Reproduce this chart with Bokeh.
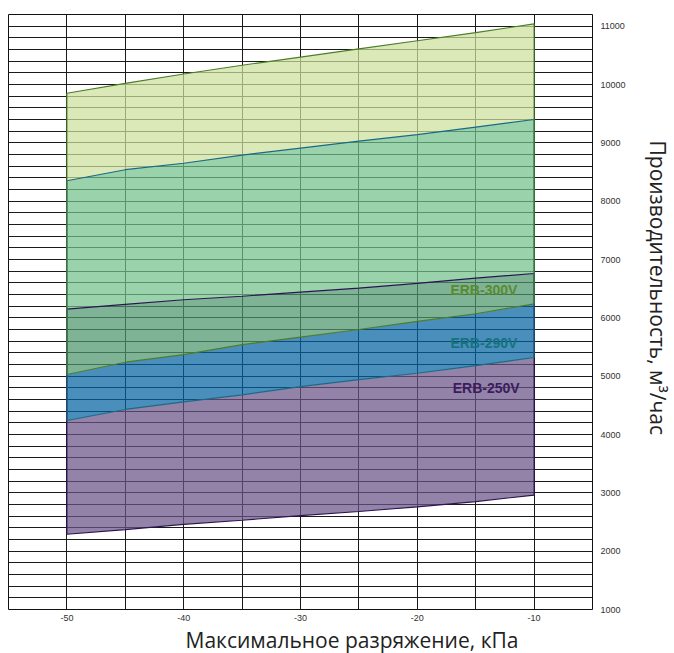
from bokeh.plotting import figure
from bokeh.models import FixedTicker, Range1d, Label, Title
from bokeh.embed import file_html
from bokeh.resources import INLINE

# ---- data ----
pressure = [-50, -45, -40, -35, -30, -25, -20, -15, -10]

erb300_upper = [9850, 10020, 10180, 10330, 10470, 10610, 10750, 10890, 11040]
erb300_lower = [5030, 5240, 5370, 5540, 5670, 5800, 5940, 6070, 6240]

erb290_upper = [8350, 8540, 8650, 8790, 8910, 9030, 9140, 9270, 9400]
erb290_lower = [4240, 4430, 4560, 4680, 4820, 4940, 5050, 5180, 5320]

erb250_upper = [6150, 6230, 6310, 6370, 6440, 6510, 6590, 6680, 6760]
erb250_lower = [2290, 2370, 2460, 2530, 2610, 2680, 2760, 2850, 2960]

model_names = ["ERB-300V", "ERB-290V", "ERB-250V"]

x_tick_values = [-50, -40, -30, -20, -10]
y_tick_values = [1000, 2000, 3000, 4000, 5000, 6000, 7000, 8000, 9000, 10000, 11000]
x_grid_values = [-50, -45, -40, -35, -30, -25, -20, -15, -10]
y_grid_values = list(range(1200, 11200, 200))

x_title = "Максимальное разряжение, кПа"
y_title = "Производительность, м³/час"

# ---- figure ----
p = figure(frame_width=584, frame_height=595,
           x_range=Range1d(-55, -5), y_range=Range1d(1000, 11200),
           y_axis_location="right",
           output_backend="svg", toolbar_location=None,
           min_border_left=8, min_border_top=14, min_border_right=0, min_border_bottom=0)

p.background_fill_color = "white"
p.border_fill_color = "white"
p.outline_line_color = "#111111"
p.outline_line_width = 1

p.xgrid.ticker = FixedTicker(ticks=x_grid_values)
p.ygrid.ticker = FixedTicker(ticks=y_grid_values)
for g in (p.xgrid, p.ygrid):
    g.grid_line_color = "#1a1a1a"
    g.grid_line_width = 1
    g.grid_line_alpha = 1.0

FA = 0.72
# overlapping bands
p.varea(x=pressure, y1=erb290_upper, y2=erb300_upper, fill_color="#cde09c", fill_alpha=FA)
p.varea(x=pressure, y1=erb250_upper, y2=erb290_upper, fill_color="#73c28a", fill_alpha=FA)
p.varea(x=pressure, y1=erb300_lower, y2=erb250_upper, fill_color="#4d956d", fill_alpha=FA)
p.varea(x=pressure, y1=erb290_lower, y2=erb300_lower, fill_color="#0463a2", fill_alpha=FA)
p.varea(x=pressure, y1=erb250_lower, y2=erb290_lower, fill_color="#695386", fill_alpha=FA)

# outlines of each model's working area
def outline(up, lo, color):
    xs = pressure + pressure[::-1]
    ys = up + lo[::-1]
    p.patch(xs, ys, fill_alpha=0, line_color=color, line_width=1.1)

outline(erb250_upper, erb250_lower, "#2c1452")
outline(erb290_upper, erb290_lower, "#1a6a85")
outline(erb300_upper, erb300_lower, "#4e7d2a")

# model labels
label_colors = ["#5a8a2e", "#15737d", "#3b1c5e"]
label_pos = [(-14.3, 6484), (-14.3, 5575), (-14.1, 4803)]
for name, col, (lx, ly) in zip(model_names, label_colors, label_pos):
    p.add_layout(Label(x=lx, y=ly, text=name, text_align="center", text_baseline="middle",
                       text_font="Liberation Sans", text_font_style="bold",
                       text_font_size="14px", text_color=col))

# axes
p.xaxis.ticker = FixedTicker(ticks=x_tick_values)
p.yaxis.ticker = FixedTicker(ticks=y_tick_values)
p.xaxis.major_label_overrides = {v: str(v) for v in x_tick_values}
p.yaxis.major_label_overrides = {v: str(v) for v in y_tick_values}
for ax in (p.xaxis, p.yaxis):
    ax.axis_line_color = None
    ax.major_tick_line_color = None
    ax.minor_tick_line_color = None
    ax.major_tick_out = 0
    ax.major_tick_in = 0
    ax.minor_tick_out = 0
    ax.minor_tick_in = 0
    ax.major_label_text_font = "Liberation Sans"
    ax.major_label_text_font_size = "9px"
    ax.major_label_text_color = "#333333"
p.xaxis.major_label_standoff = 5
p.yaxis.major_label_standoff = 8

# axis titles (placed as side titles so they can be offset like the reference)
xt = Title(text=x_title, align="left", offset=177, standoff=0, padding=0,
           text_font="Open Sans", text_font_style="normal",
           text_font_size="21px", text_color="#222222")
p.add_layout(xt, "below")
yt = Title(text=y_title, align="left", offset=126, standoff=30, padding=0,
           text_font="Open Sans", text_font_style="normal",
           text_font_size="21px", text_color="#222222")
p.add_layout(yt, "right")

open("out.html", "w").write(file_html(p, INLINE))
